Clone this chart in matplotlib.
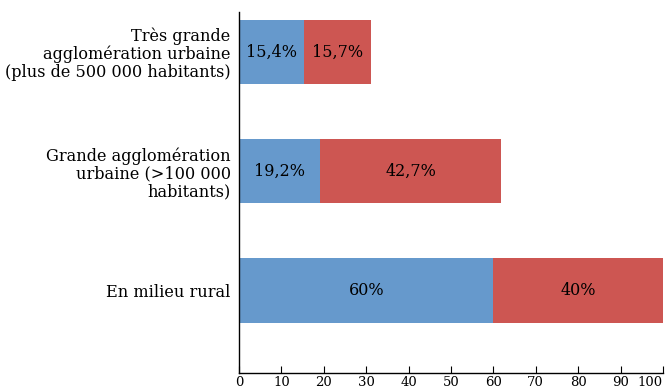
import matplotlib.pyplot as plt

categories = ["Très grande\nagglomération urbaine\n(plus de 500 000 habitants)",
              "Grande agglomération\nurbaine (>100 000\nhabitants)",
              "En milieu rural"]
part_bleue = [15.4, 19.2, 60.0]
part_rouge = [15.7, 42.7, 40.0]
labels_bleue = ["15,4%", "19,2%", "60%"]
labels_rouge = ["15,7%", "42,7%", "40%"]
xticks = list(range(0, 101, 10))

plt.rcParams['font.family'] = ['DejaVu Serif']

fig = plt.figure(figsize=(6.65, 3.92), dpi=100)
ax = fig.add_axes([239 / 665, 1 - 373 / 392, 424 / 665, 361 / 392])

y = list(range(len(categories)))
ax.barh(y, part_bleue, height=0.54, color='#6699cc')
ax.barh(y, part_rouge, left=part_bleue, height=0.54, color='#cd5652')

for i in y:
    ax.text(part_bleue[i] / 2, i, labels_bleue[i], ha='center', va='center', fontsize=11.5)
    ax.text(part_bleue[i] + part_rouge[i] / 2, i, labels_rouge[i], ha='center', va='center', fontsize=11.5)

ax.set_xlim(0, 100)
ax.set_ylim(2.693, -0.336)
ax.set_xticks(xticks)
ax.set_yticks(y)
ax.set_yticklabels(categories, fontsize=11.6, linespacing=1.05)
ax.tick_params(axis='y', length=0, pad=6)
ax.tick_params(axis='x', direction='in', length=5, labelsize=9.5, pad=2)
ax.get_xticklabels()[-1].set_horizontalalignment('right')
for s in ['top', 'right']:
    ax.spines[s].set_visible(False)
for s in ['left', 'bottom']:
    ax.spines[s].set_linewidth(1.0)

fig.savefig('out.png', dpi=100)
